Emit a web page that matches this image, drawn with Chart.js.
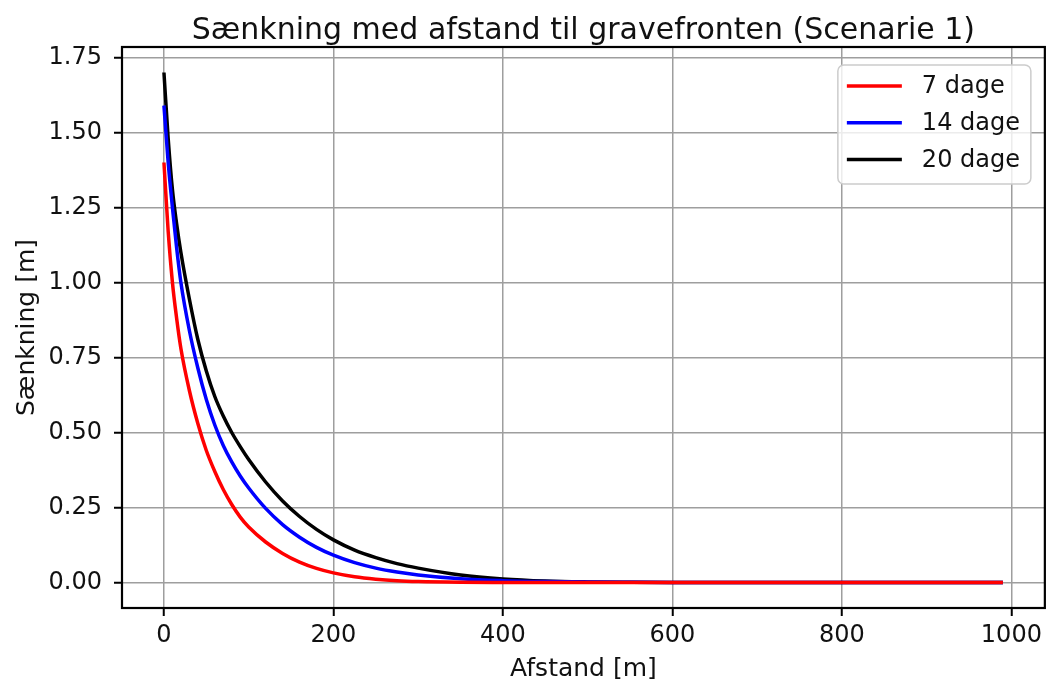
<!DOCTYPE html>
<html>
<head>
<meta charset="utf-8">
<script src="https://cdn.jsdelivr.net/npm/chart.js@4/dist/chart.umd.min.js"></script>
<style>
  html, body { margin: 0; padding: 0; background: #fff; }
  #chart { display: block; }
</style>
</head>
<body>
<canvas id="chart" width="1047" height="682"></canvas>
<script>
// ===== Data =====
const distances = [0, 5, 10, 15, 20, 30, 40, 50, 60, 70, 80, 90, 100, 120, 140, 160, 180, 200,
  225, 250, 275, 300, 350, 400, 450, 500, 550, 600, 700, 800, 900, 990];

const days7 = [1.40, 1.17, 1.00, 0.88, 0.78, 0.64, 0.53, 0.44, 0.37, 0.31, 0.26, 0.218, 0.185, 0.135, 0.097, 0.068, 0.047, 0.032,
  0.019, 0.011, 0.006, 0.0033, 0.001, 0.0003, 0, 0, 0, 0, 0, 0, 0, 0];
const days14 = [1.59, 1.40, 1.25, 1.115, 1.00, 0.84, 0.715, 0.61, 0.525, 0.457, 0.402, 0.355, 0.315, 0.247, 0.193, 0.151, 0.117, 0.091,
  0.066, 0.048, 0.035, 0.0253, 0.0125, 0.0062, 0.003, 0.0013, 0.0005, 0, 0, 0, 0, 0];
const days20 = [1.70, 1.48, 1.31, 1.195, 1.10, 0.945, 0.81, 0.705, 0.62, 0.555, 0.50, 0.453, 0.41, 0.335, 0.272, 0.22, 0.177, 0.142,
  0.108, 0.083, 0.063, 0.048, 0.025, 0.012, 0.005, 0.002, 0.0007, 0, 0, 0, 0, 0];

const seriesLabels = ["7 dage", "14 dage", "20 dage"];
const seriesColors = ["#ff0000", "#0000ff", "#000000"];

const xTicks = [0, 200, 400, 600, 800, 1000];
const yTicks = [0, 0.25, 0.5, 0.75, 1.0, 1.25, 1.5, 1.75];

const FONT = "'DejaVu Sans', sans-serif";
const TEXT = "#111";

// ===== Helpers =====
function toPoints(values) {
  return distances.map((d, i) => ({ x: d, y: values[i] }));
}

// frame round the plot area (matplotlib style) + legend box
const framePlugin = {
  id: "frame",
  afterDraw(chart) {
    const { ctx, chartArea: a } = chart;
    ctx.save();
    ctx.strokeStyle = "#000";
    ctx.lineWidth = 2.2;
    ctx.strokeRect(a.left, a.top, a.right - a.left, a.bottom - a.top);

    // legend
    const w = 193, h = 119;
    const bx = a.right - 14 - w, by = a.top + 18;
    ctx.beginPath();
    ctx.roundRect(bx, by, w, h, 6);
    ctx.fillStyle = "rgba(255,255,255,0.8)";
    ctx.fill();
    ctx.strokeStyle = "#cccccc";
    ctx.lineWidth = 1.5;
    ctx.stroke();

    ctx.font = "24px " + FONT;
    ctx.textBaseline = "middle";
    ctx.textAlign = "left";
    chart.data.datasets.forEach((ds, i) => {
      const ly = by + 21 + i * 36.7;
      ctx.beginPath();
      ctx.moveTo(bx + 9, ly);
      ctx.lineTo(bx + 64, ly);
      ctx.strokeStyle = ds.borderColor;
      ctx.lineWidth = 3.5;
      ctx.stroke();
      ctx.fillStyle = TEXT;
      ctx.fillText(ds.label, bx + 84, ly + 1);
    });
    ctx.restore();
  }
};

// ===== Chart =====
new Chart(document.getElementById("chart"), {
  type: "line",
  data: {
    datasets: [days7, days14, days20].map((vals, i) => ({
      label: seriesLabels[i],
      data: toPoints(vals),
      borderColor: seriesColors[i],
      backgroundColor: seriesColors[i],
      borderWidth: 3.5,
      pointRadius: 0,
      cubicInterpolationMode: "monotone",
      fill: false
    }))
  },
  options: {
    responsive: false,
    animation: false,
    layout: { padding: { left: 0, right: 2, top: 0, bottom: 0 } },
    plugins: {
      legend: { display: false },
      tooltip: { enabled: false },
      title: {
        display: true,
        fullSize: false,
        text: "Sænkning med afstand til gravefronten (Scenarie 1)",
        color: TEXT,
        font: { family: FONT, size: 30, weight: "normal", lineHeight: 1.0 },
        padding: { top: 16, bottom: 1 }
      }
    },
    scales: {
      x: {
        type: "linear",
        min: -49.5,
        max: 1039.5,
        afterBuildTicks: s => { s.ticks = xTicks.map(v => ({ value: v })); },
        afterFit: s => { s.height = 74; },
        ticks: {
          color: TEXT,
          font: { family: FONT, size: 24 },
          padding: 5,
          maxRotation: 0,
          callback: v => String(v)
        },
        grid: { color: "#9e9e9e", lineWidth: 1.5, tickColor: "#000", tickLength: 8, tickWidth: 2 },
        border: { display: false },
        title: {
          display: true,
          text: "Afstand [m]",
          color: TEXT,
          font: { family: FONT, size: 25, lineHeight: 1.0 },
          padding: { top: 0, bottom: 0 }
        }
      },
      y: {
        type: "linear",
        min: -0.085,
        max: 1.785,
        afterBuildTicks: s => { s.ticks = yTicks.map(v => ({ value: v })); },
        afterFit: s => { s.width = 122; },
        ticks: {
          color: TEXT,
          font: { family: FONT, size: 24 },
          padding: 12,
          callback: v => Number(v).toFixed(2)
        },
        grid: { color: "#9e9e9e", lineWidth: 1.5, tickColor: "#000", tickLength: 8, tickWidth: 2 },
        border: { display: false },
        title: {
          display: true,
          text: "Sænkning [m]",
          color: TEXT,
          font: { family: FONT, size: 25, lineHeight: 1.0 },
          padding: { top: 14.5, bottom: 0 }
        }
      }
    }
  },
  plugins: [framePlugin]
});
</script>
</body>
</html>
